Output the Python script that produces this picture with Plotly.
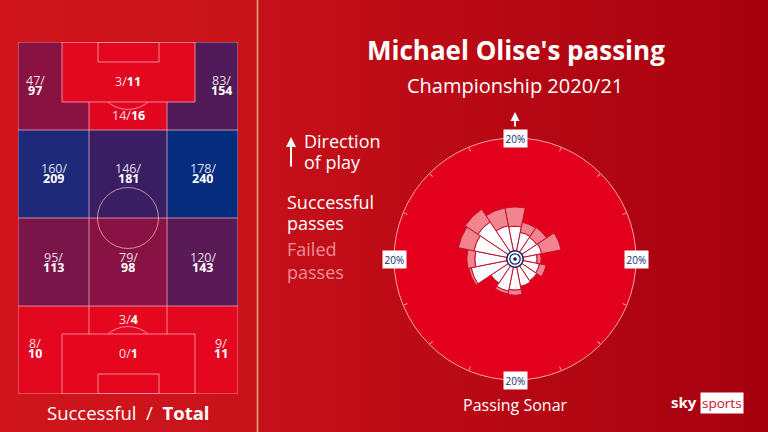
import plotly.graph_objects as go
from plotly.colors import sample_colorscale

W, H = 768, 432

# ---------------- data ----------------
zone_names = ["top_left", "top_d", "top_right",
              "mid1_left", "mid1_centre", "mid1_right",
              "mid2_left", "mid2_centre", "mid2_right",
              "bot_left", "bot_d", "bot_right",
              "top_box", "bot_box"]
zone_success = [47, 14, 83, 160, 146, 178, 95, 79, 120, 8, 3, 9, 3, 0]
zone_total = [97, 16, 154, 209, 181, 240, 113, 98, 143, 10, 4, 11, 11, 1]

sonar_dirs = [0, 22.5, 45, 67.5, 90, 112.5, 135, 157.5,
              180, 202.5, 225, 247.5, 270, 292.5, 315, 337.5]
sonar_success = [4.4, 3.4, 3.2, 3.4, 2.5, 3.0, 3.2, 3.5,
                 4.1, 4.4, 3.7, 6.5, 5.7, 6.0, 6.5, 4.6]
sonar_failed = [3.4, 1.8, 2.1, 3.5, 0.7, 1.2, 0.0, 0.0,
                0.9, 0.5, 0.0, 0.4, 1.4, 2.8, 2.7, 3.2]
radial_max = 20

title = "Michael Olise's passing"
subtitle = "Championship 2020/21"
FONT = "Open Sans"

# ---------------- layout helpers ----------------
def px(x):
    return x / W

def py(y):
    return 1 - y / H

# pitch geometry in pitch-pixel units (width 220, length 352)
PW, PL = 220, 352
PX0, PY0 = 18, 42
zone_geom = {
    "top_left": (0, 0, 71, 88, 17, 43, 2),
    "top_d": (71, 0, 149, 88, 110, 73, 1),
    "top_right": (149, 0, 220, 88, 203, 43, 2),
    "mid1_left": (0, 88, 71, 176, 35.5, 131, 2),
    "mid1_centre": (71, 88, 149, 176, 110, 131, 2),
    "mid1_right": (149, 88, 220, 176, 184.5, 131, 2),
    "mid2_left": (0, 176, 71, 264, 35.5, 220, 2),
    "mid2_centre": (71, 176, 149, 264, 110, 220, 2),
    "mid2_right": (149, 176, 220, 264, 184.5, 220, 2),
    "bot_left": (0, 264, 71, 352, 17, 306, 2),
    "bot_d": (71, 264, 149, 352, 110, 277, 1),
    "bot_right": (149, 264, 220, 352, 203, 306, 2),
    "top_box": (44, 0, 177, 60, 110, 39, 1),
    "bot_box": (44, 292, 177, 352, 110, 311, 1),
}

zscale = [[0, "#e6071f"], [0.1, "#df0620"], [0.4, "#8a1242"],
          [0.6, "#591a56"], [0.75, "#3b1e62"], [0.87, "#1e2a79"],
          [1, "#062c7e"]]
maxtot = max(zone_total)
zone_colors = sample_colorscale(zscale, [t / maxtot for t in zone_total],
                                colortype="rgb")

fig = go.Figure()

# background panels (pixel axis)
fig.add_trace(go.Scatter(x=[0, 257, 257, 0, 0], y=[0, 0, H, H, 0], fill="toself",
                         mode="none", hoverinfo="skip", showlegend=False,
                         fillgradient=dict(type="horizontal",
                                           colorscale=[[0, "#d0151c"], [1, "#c8131a"]]),
                         xaxis="x", yaxis="y"))
fig.add_trace(go.Scatter(x=[257, W, W, 257, 257], y=[0, 0, H, H, 0], fill="toself",
                         mode="none", hoverinfo="skip", showlegend=False,
                         fillgradient=dict(type="horizontal",
                                           colorscale=[[0, "#c61019"], [1, "#a6000f"]]),
                         xaxis="x", yaxis="y"))
# dummy for pitch axes
fig.add_trace(go.Scatter(x=[0, PW], y=[0, PL], mode="markers", marker=dict(opacity=0),
                         hoverinfo="skip", showlegend=False, xaxis="x2", yaxis="y2"))

shapes = []
annotations = []
LINE = dict(color="rgba(255,185,200,0.7)", width=1)

def pshape(**kw):
    d = dict(xref="x2", yref="y2", layer="above")
    d.update(kw)
    shapes.append(d)

# zone fills (non-box first)
for name, col in zip(zone_names, zone_colors):
    if name.endswith("box"):
        continue
    x0, y0, x1, y1 = zone_geom[name][:4]
    pshape(type="rect", x0=x0, y0=y0, x1=x1, y1=y1, fillcolor=col, line=dict(width=0))
# centre circle and penalty arcs
pshape(type="circle", x0=110 - 30.5, x1=110 + 30.5, y0=176 - 30.5, y1=176 + 30.5, line=LINE)
pshape(type="circle", x0=110 - 30.5, x1=110 + 30.5, y0=37 - 30.5, y1=37 + 30.5, line=LINE)
pshape(type="circle", x0=110 - 30.5, x1=110 + 30.5, y0=315 - 30.5, y1=315 + 30.5, line=LINE)
# boxes
for name, col in zip(zone_names, zone_colors):
    if not name.endswith("box"):
        continue
    x0, y0, x1, y1 = zone_geom[name][:4]
    pshape(type="rect", x0=x0, y0=y0, x1=x1, y1=y1, fillcolor=col, line=LINE)
# six-yard boxes
pshape(type="rect", x0=80, x1=141, y0=0, y1=20, line=LINE)
pshape(type="rect", x0=80, x1=141, y0=332, y1=352, line=LINE)
# zone boundary lines
for xc in (71, 149):
    pshape(type="line", x0=xc, x1=xc, y0=60, y1=292, line=LINE)
for yr in (88, 176, 264):
    pshape(type="line", x0=0, x1=PW, y0=yr, y1=yr, line=LINE)
pshape(type="rect", x0=0, x1=PW, y0=0, y1=PL, line=LINE)

# zone labels
for name, s, t in zip(zone_names, zone_success, zone_total):
    _, _, _, _, lx, ly, nl = zone_geom[name]
    if nl == 2:
        annotations.append(dict(xref="x2", yref="y2", x=lx, y=ly - 5.3, showarrow=False,
                                height=10, borderpad=0, xanchor="center", yanchor="middle",
                                text=f"{s}/", font=dict(family=FONT, size=12.5,
                                                        color="rgba(255,255,255,0.88)")))
        annotations.append(dict(xref="x2", yref="y2", x=lx, y=ly + 5.3, showarrow=False,
                                height=10, borderpad=0, xanchor="center", yanchor="middle",
                                text=f"<b>{t}</b>", font=dict(family=FONT, size=12.5,
                                                              color="white")))
    else:
        annotations.append(dict(xref="x2", yref="y2", x=lx, y=ly, showarrow=False,
                                xanchor="center", yanchor="middle",
                                text=f"<span style='color:rgba(255,255,255,0.88)'>{s}/</span><b>{t}</b>",
                                font=dict(family=FONT, size=12.5, color="white")))

# divider
shapes.append(dict(type="line", xref="paper", yref="paper", x0=px(257.5), x1=px(257.5),
                   y0=0, y1=1, line=dict(color="#dcaa72", width=1.6), layer="above"))

# ---------------- sonar ----------------
CX, CY, R = 515, 259, 121
hole_px = 8
fig.add_trace(go.Barpolar(theta=sonar_dirs, r=sonar_success, width=22.5,
                          marker=dict(color="white", line=dict(color="#c3102d", width=1)),
                          hoverinfo="skip", showlegend=False))
fig.add_trace(go.Barpolar(theta=sonar_dirs, r=sonar_failed, width=22.5,
                          marker=dict(color="#f2848f", line=dict(color="#c3102d", width=1)),
                          hoverinfo="skip", showlegend=False))

# centre marker
def circ(r, fill, lc, lw):
    shapes.append(dict(type="circle", xref="paper", yref="paper",
                       x0=px(CX - r), x1=px(CX + r), y0=py(CY + r), y1=py(CY - r),
                       fillcolor=fill, line=dict(color=lc, width=lw), layer="above"))
circ(8.2, "white", "#10245e", 1.5)
circ(5.2, "white", "#10245e", 1.3)
circ(1.6, "#10245e", "#10245e", 0.5)

# 20% labels
for (lx, ly) in [(CX, CY - R), (CX, CY + R), (CX - R, CY), (CX + R, CY)]:
    annotations.append(dict(xref="paper", yref="paper", x=px(lx), y=py(ly), showarrow=False,
                            xanchor="center", yanchor="middle",
                            text=f"{radial_max}%", bgcolor="white", borderpad=1.5,
                            font=dict(family=FONT, size=10, color="#13296b")))
# direction arrow above sonar
annotations.append(dict(xref="paper", yref="paper", x=px(CX), y=py(112), ax=0, ay=16,
                        showarrow=True, arrowhead=2, arrowsize=1, arrowwidth=1.8,
                        arrowcolor="white", text=""))

# ---------------- texts ----------------
def txt(x, y, text, size, color="white", anchor="center", family=FONT):
    annotations.append(dict(xref="paper", yref="paper", x=px(x), y=py(y), text=text,
                            showarrow=False, xanchor=anchor, yanchor="middle",
                            font=dict(family=family, size=size, color=color)))

txt(516, 50, f"<b>{title}</b>", 26)
txt(515, 85, subtitle, 20)
annotations.append(dict(xref="paper", yref="paper", x=px(291), y=py(137), ax=0, ay=31,
                        showarrow=True, arrowhead=2, arrowsize=1, arrowwidth=2,
                        arrowcolor="white", text=""))
txt(302, 141, "Direction", 18, anchor="left")
txt(302, 162, "of play", 18, anchor="left")
txt(285, 202, "Successful", 18, anchor="left")
txt(285, 223, "passes", 18, anchor="left")
txt(285, 249, "Failed", 18, "#f08d97", anchor="left")
txt(285, 272, "passes", 18, "#f08d97", anchor="left")
txt(515, 405, "Passing Sonar", 16)
txt(128, 412, "Successful  /  <b>Total</b>", 18.5)
txt(684, 402, "<b>sky</b>", 15)
annotations.append(dict(xref="paper", yref="paper", x=px(722), y=py(403), text="sports",
                        showarrow=False, xanchor="center", yanchor="middle",
                        bgcolor="white", borderpad=1,
                        font=dict(family=FONT, size=13.5, color="#c8102e")))

fig.update_layout(
    width=W, height=H, margin=dict(l=0, r=0, t=0, b=0),
    paper_bgcolor="#c3101a", plot_bgcolor="rgba(0,0,0,0)",
    showlegend=False,
    xaxis=dict(domain=[0, 1], range=[0, W], visible=False, fixedrange=True),
    yaxis=dict(domain=[0, 1], range=[H, 0], visible=False, fixedrange=True),
    xaxis2=dict(domain=[px(PX0), px(PX0 + PW)], range=[0, PW], visible=False,
                anchor="y2", fixedrange=True),
    yaxis2=dict(domain=[py(PY0 + PL), py(PY0)], range=[PL, 0], visible=False,
                anchor="x2", fixedrange=True),
    polar=dict(
        domain=dict(x=[px(CX - R), px(CX + R)], y=[py(CY + R), py(CY - R)]),
        bgcolor="#e3001c",
        hole=hole_px / R,
        barmode="stack",
        radialaxis=dict(range=[0, radial_max], visible=False),
        angularaxis=dict(rotation=90, direction="clockwise", showgrid=False,
                         showticklabels=False, ticks="inside", ticklen=4,
                         tickmode="linear", tick0=0, dtick=22.5,
                         tickcolor="rgba(255,200,205,0.8)",
                         linecolor="rgba(255,200,205,0.8)", linewidth=1),
    ),
    shapes=shapes,
    annotations=annotations,
)

fig.write_html("out.html")
